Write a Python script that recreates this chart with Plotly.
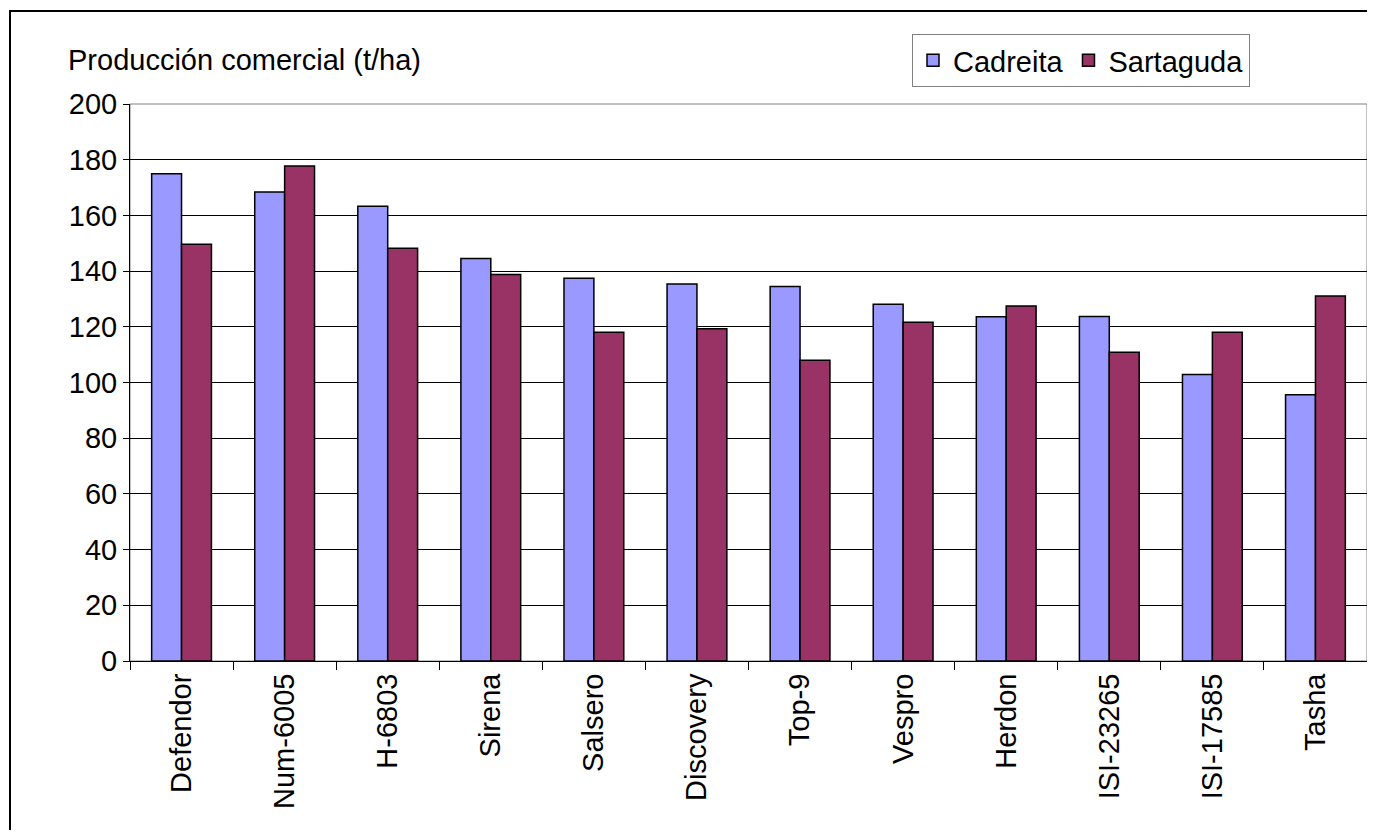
import plotly.graph_objects as go

categories = ["Defendor", "Num-6005", "H-6803", "Sirena", "Salsero", "Discovery",
              "Top-9", "Vespro", "Herdon", "ISI-23265", "ISI-17585", "Tasha"]
cadreita = [175, 168.4, 163.3, 144.5, 137.4, 135.4, 134.5, 128.1, 123.6, 123.7, 102.9, 95.6]
sartaguda = [149.6, 177.7, 148.2, 138.8, 118.0, 119.3, 108.0, 121.6, 127.5, 110.9, 118.0, 131.1]
y_ticks = list(range(0, 201, 20))

# page has an 8px body margin; figure sized to fit inside the window
OFF = 8
W, H = 1375 - 2 * OFF, 838 - 2 * OFF
# plot area in page pixels
PL, PR, PT, PB = 130, 1367, 104, 661
L, T = PL - OFF, PT - OFF
R = W - (PR - OFF)
B = H - (PB - OFF)
pw, ph = W - L - R, H - T - B

def px_x(x):
    return (x - OFF - L) / pw

def px_y(y):
    return (H - B - (y - OFF)) / ph

font = "Liberation Sans, Arial, sans-serif"
FS = 29

fig = go.Figure()
fig.add_trace(go.Bar(name="Cadreita", x=categories, y=cadreita,
                     marker=dict(color="#9999FF", line=dict(color="black", width=1.5))))
fig.add_trace(go.Bar(name="Sartaguda", x=categories, y=sartaguda,
                     marker=dict(color="#993366", line=dict(color="black", width=1.5))))

fig.update_layout(
    width=W, height=H,
    margin=dict(l=L, r=R, t=T, b=B, pad=0),
    paper_bgcolor="white", plot_bgcolor="white",
    barmode="group", bargap=0.42, bargroupgap=0,
    font=dict(family=font, size=FS, color="black"),
    legend=dict(orientation="h", x=px_x(912), y=px_y(34), xanchor="left", yanchor="top",
                bordercolor="#808080", borderwidth=1, bgcolor="white",
                font=dict(size=FS), itemwidth=30, tracegroupgap=0),
    xaxis=dict(type="category", tickangle=-90, ticks="outside", tickson="boundaries",
               ticklen=8, tickcolor="black", showline=True, linecolor="black", linewidth=1,
               showgrid=False, tickfont=dict(size=FS)),
    yaxis=dict(range=[0, 200], tickvals=y_ticks, ticks="outside", ticklen=6,
               tickcolor="black", showline=True, linecolor="black", linewidth=1,
               showgrid=True, gridcolor="black", gridwidth=1, zeroline=False,
               tickfont=dict(size=FS)),
    annotations=[dict(text="Producción comercial (t/ha)", x=px_x(66), y=px_y(60),
                      xref="paper", yref="paper", xanchor="left", yanchor="middle",
                      showarrow=False, font=dict(size=FS))],
    shapes=[
        dict(type="rect", xref="paper", yref="paper", x0=0, x1=1, y0=0, y1=1,
             line=dict(color="#808080", width=1), layer="below"),
        dict(type="rect", xref="paper", yref="paper",
             x0=px_x(10), x1=px_x(1380), y0=px_y(845), y1=px_y(11),
             line=dict(color="black", width=2)),
    ],
)

fig.write_html("out.html")
